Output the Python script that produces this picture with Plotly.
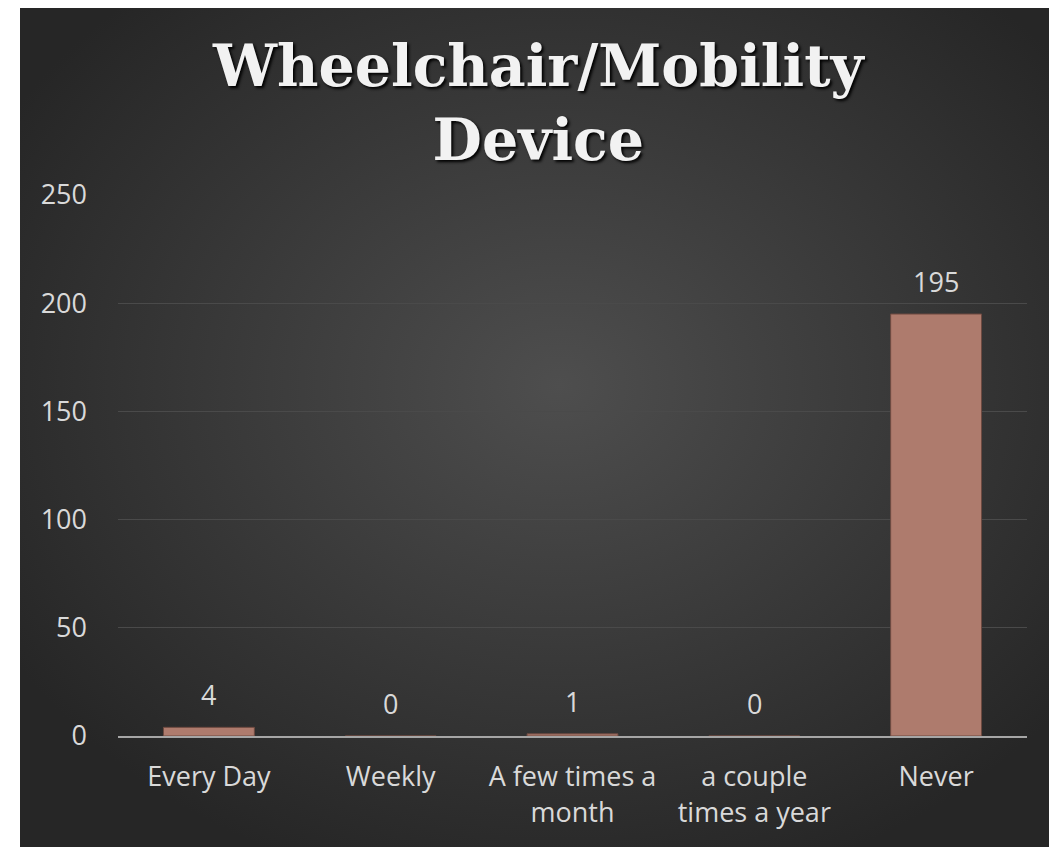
import base64
import plotly.graph_objects as go

categories = ["Every Day", "Weekly", "A few times a<br>month",
              "a couple<br>times a year", "Never"]
counts = [4, 0, 1, 0, 195]
y_ticks = [0, 50, 100, 150, 200, 250]

# page body adds an 8px offset, so the figure is a bit smaller
W, H = 1049, 839
L, R, T, B = 110, 30, 187, 111
pw, ph = W - L - R, H - T - B

svg = ('<svg xmlns="http://www.w3.org/2000/svg" width="1049" height="839">'
       '<defs><radialGradient id="g" cx="0.52" cy="0.45" r="0.62">'
       '<stop offset="0" stop-color="#4e4e4e"/>'
       '<stop offset="1" stop-color="#262626"/></radialGradient></defs>'
       '<rect width="1049" height="839" fill="url(#g)"/></svg>')
bg = "data:image/svg+xml;base64," + base64.b64encode(svg.encode()).decode()

label_font = dict(family="Open Sans", size=27, color="#d9d9d9")

fig = go.Figure(go.Bar(
    x=categories, y=counts, width=0.5,
    marker=dict(color="#ae7b6d", line=dict(color="#6e4a40", width=1)),
))

annotations = [dict(
    text="Wheelchair/Mobility<br>Device",
    xref="paper", yref="paper", x=(530 - L) / pw, xanchor="center",
    y=(H - B - 22) / ph, yanchor="top", showarrow=False,
    font=dict(family="DejaVu Serif", size=57, color="#f2f2f2",
              weight="bold", shadow="2px 2px 3px #000000"),
)]
for cat, n in zip(categories, counts):
    annotations.append(dict(
        x=cat, y=n, text=str(n), showarrow=False,
        yanchor="bottom", yshift=12, font=label_font,
    ))

fig.update_layout(
    width=W, height=H,
    margin=dict(l=L, r=R, t=T, b=B),
    paper_bgcolor="white", plot_bgcolor="rgba(0,0,0,0)",
    showlegend=False,
    images=[dict(
        source=bg, xref="paper", yref="paper",
        x=(12 - L) / pw, y=(H - B) / ph,
        sizex=(W - 12) / pw, sizey=H / ph,
        xanchor="left", yanchor="top", sizing="stretch", layer="below",
    )],
    annotations=annotations,
)

fig.update_yaxes(
    range=[0, 250], tickvals=y_ticks, showgrid=True,
    gridcolor="#4a4a4a", gridwidth=1, zeroline=False, showline=False,
    ticks="", ticklabelstandoff=30,
    tickfont=label_font,
)
fig.update_xaxes(
    showline=True, linecolor="#a6a6a6", linewidth=2, ticks="",
    tickfont=label_font, ticklabelstandoff=16,
)

fig.write_html("out.html")
